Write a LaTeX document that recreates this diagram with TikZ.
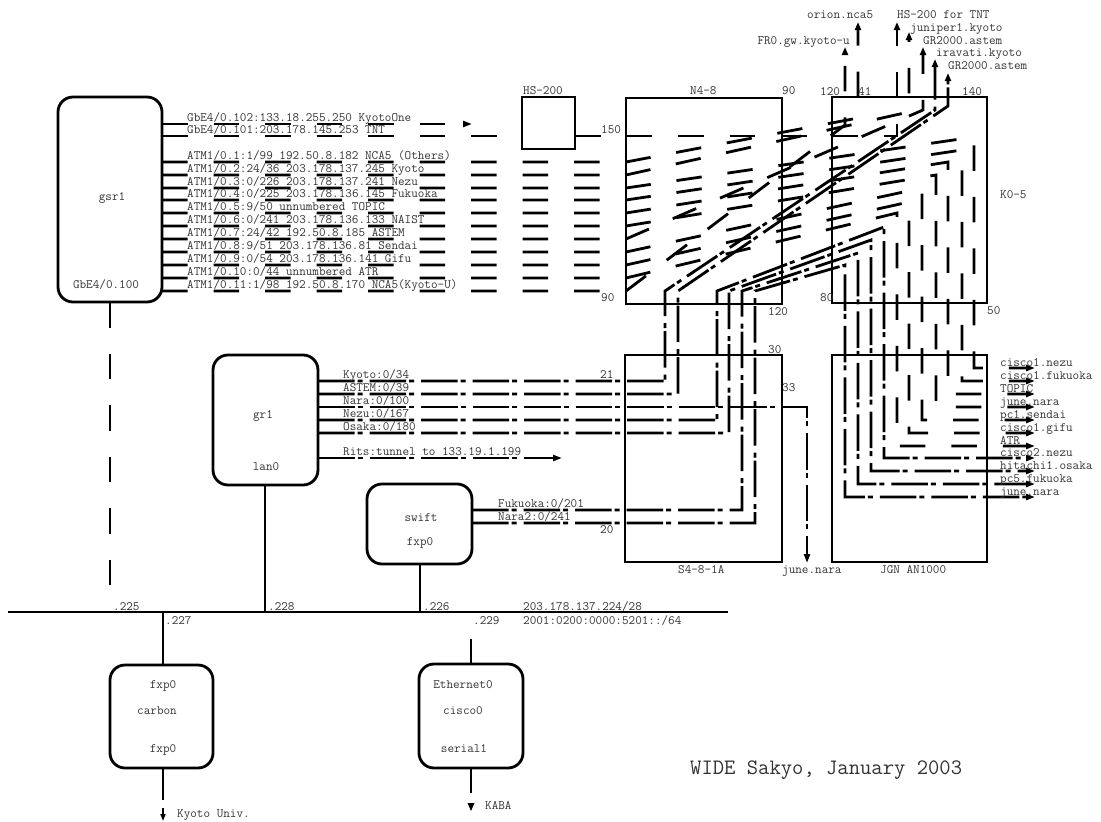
\documentclass[tikz,border=0pt]{standalone}
\usepackage{fontspec}
\usetikzlibrary{arrows.meta}
\begin{document}
\begin{tikzpicture}[x=1pt,y=-1pt,
  wire/.style={line width=2.8pt},
  ld/.style={wire, dash pattern=on 25.5pt off 26pt},
  dd/.style={wire, dash pattern=on 36.5pt off 3pt on 5pt off 7pt},
  box/.style={draw, line width=2.8pt, inner sep=0pt},
  rbox/.style={box, rounded corners=15pt},
  lab/.style={inner sep=0pt, anchor=base west, font=\ttfamily\fontsize{12.8}{15}\selectfont, text=black!80},
  labc/.style={lab, anchor=base},
  labe/.style={lab, anchor=base east},
  tip/.style={-{Triangle[width=6pt,length=9pt]}},
  tipu/.style={-{Triangle[width=6pt,length=8pt]}}
]
\useasboundingbox (0,0) rectangle (1101,822);

% ---------- boxes ----------
\node[rbox, minimum width=104pt, minimum height=205pt] (gsr1) at (110,199.5) {};
\node[rbox, minimum width=105pt, minimum height=130pt] (gr1) at (265.5,420) {};
\node[rbox, minimum width=105pt, minimum height=80pt] (swift) at (419.5,524) {};
\node[rbox, minimum width=103pt, minimum height=103pt] (carbon) at (161.5,716.5) {};
\node[rbox, minimum width=104pt, minimum height=104pt] (cisco0) at (471,716) {};
\node[box, minimum width=53pt, minimum height=52pt] (hs) at (548.5,123) {};
\node[box, minimum width=156pt, minimum height=206pt] (n48) at (704,201) {};
\node[box, minimum width=155pt, minimum height=206pt] (k05) at (909.5,200) {};
\node[box, minimum width=157pt, minimum height=207pt] (s48) at (703.5,458.5) {};
\node[box, minimum width=155pt, minimum height=207pt] (jgn) at (909.5,458.5) {};

% ---------- bus ----------
\draw[wire] (8,612) -- (728,612);
\draw[ld] (110,302) -- (110,612);
\draw[wire] (265,485) -- (265,612);
\draw[wire] (420,564) -- (420,612);
\draw[wire] (163,612) -- (163,665);
\draw[wire] (163,768) -- (163,800);
\draw[line width=1.6pt, -{Triangle[width=5pt,length=7pt]}] (163,808) -- (163,821);
\draw[wire] (471,639) -- (471,664);
\draw[wire] (471,768) -- (471,793);
\fill (467.5,803) -- (474.5,803) -- (471,811) -- cycle;

% ---------- gsr1 wires ----------
\draw[ld, tip] (162,124) -- (472,124);
\draw[ld] (162,136) -- (522,136);
\draw[ld, tipu] (575,136) -- (897,136) -- (897,22);
\draw[ld, tipu] (162,162) -- (626,162) -- (858,118) -- (858,22);
\draw[ld, tipu] (162,175) -- (626,175) -- (909,112) -- (909,32);
\draw[ld, tip] (162,188) -- (626,188) -- (974,137) -- (974,368) -- (1035,368);
\draw[ld, tip] (162,200) -- (626,200) -- (962,150) -- (962,381) -- (1035,381);
\draw[ld, tip] (162,213) -- (626,213) -- (948,162) -- (948,394) -- (1035,394);
\draw[ld, tip] (162,226) -- (626,226) -- (936,175) -- (936,407) -- (1035,407);
\draw[ld, tipu] (162,239) -- (626,239) -- (923,110) -- (923,47);
\draw[ld, tip] (162,252) -- (626,252) -- (922,188) -- (922,420) -- (1035,420);
\draw[ld, tip] (162,265) -- (626,265) -- (909,202) -- (909,433) -- (1035,433);
\draw[ld, tip] (162,278) -- (626,278) -- (897,213) -- (897,446) -- (1035,446);
\draw[ld, tipu] (162,291) -- (626,291) -- (845,125) -- (845,47);

% ---------- gr1 / swift wires ----------
\draw[dd, tipu] (318,381) -- (665,381) -- (665,291) -- (935,110) -- (935,59);
\draw[dd, tipu] (318,394) -- (678,394) -- (678,291) -- (948,106) -- (948,73);
\draw[dd, tip] (318,407) -- (807,407) -- (807,563);
\draw[dd, tip] (318,420) -- (717,420) -- (717,291) -- (884,227) -- (884,458) -- (1035,458);
\draw[dd, tip] (318,433) -- (729,433) -- (729,291) -- (871,240) -- (871,471) -- (1035,471);
\draw[dd, tip] (318,458) -- (562,458);
\draw[dd, tip] (472,510) -- (742,510) -- (742,291) -- (858,253) -- (858,484) -- (1035,484);
\draw[dd, tip] (472,523) -- (755,523) -- (755,291) -- (845,265) -- (845,497) -- (1035,497);

% ---------- box labels ----------
\node[labc] (t-gsr1) at (112,200.5) {gsr1};
\node[labc] (t-gsr1p) at (106,288.5) {GbE4/0.100};
\node[labc] (t-gr1) at (263,418.5) {gr1};
\node[labc] (t-gr1p) at (266,470.5) {lan0};
\node[labc] (t-swift) at (421,521.5) {swift};
\node[labc] (t-swiftp) at (420,545.5) {fxp0};
\node[labc] (t-c1) at (163,688.5) {fxp0};
\node[labc] (t-c2) at (157,714.5) {carbon};
\node[labc] (t-c3) at (163,752.5) {fxp0};
\node[labc] (t-e1) at (463,688.5) {Ethernet0};
\node[labc] (t-e2) at (463,714.5) {cisco0};
\node[labc] (t-e3) at (464,752.5) {serial1};
\node[lab] (t-hs) at (523,94) {HS-200};
\node[lab] (t-n48) at (690,94.5) {N4-8};
\node[lab] (t-n90a) at (782,94.5) {90};
\node[lab] (t-n150) at (601,133.5) {150};
\node[lab] (t-n90b) at (601,301.5) {90};
\node[lab] (t-n120) at (768,315.5) {120};
\node[lab] (t-k120) at (820,95.5) {120};
\node[lab] (t-k41) at (858,95.5) {41};
\node[lab] (t-k140) at (962,95.5) {140};
\node[lab] (t-k05) at (1000,198.5) {K0-5};
\node[lab] (t-k80) at (820,301.5) {80};
\node[lab] (t-k50) at (987,314.5) {50};
\node[lab] (t-s30) at (768,353.5) {30};
\node[lab] (t-s21) at (600,378.5) {21};
\node[lab] (t-s33) at (782,391.5) {33};
\node[lab] (t-s20) at (600,533.5) {20};
\node[lab] (t-s48) at (678,573.5) {S4-8-1A};
\node[lab] (t-jn) at (782,573.5) {june.nara};
\node[lab] (t-jgn) at (880,573.5) {JGN AN1000};

% ---------- top labels ----------
\node[lab] (o1) at (807,18.5) {orion.nca5};
\node[lab] (o2) at (897,18.5) {HS-200 for TNT};
\node[lab] (o3) at (910,31.5) {juniper1.kyoto};
\node[lab] (o4) at (923,44.5) {GR2000.astem};
\node[lab] (o5) at (936,56.5) {iravati.kyoto};
\node[lab] (o6) at (948,69.5) {GR2000.astem};
\node[labe] (o7) at (850,44.5) {FR0.gw.kyoto-u};

% ---------- gsr1 row labels ----------
\node[lab] (g1) at (187,121.5) {GbE4/0.102:133.18.255.250 KyotoOne};
\node[lab] (g2) at (187,133.5) {GbE4/0.101:203.178.145.253 TNT};
\node[lab] (g3) at (187,159.5) {ATM1/0.1:1/99 192.50.8.182 NCA5 (Others)};
\node[lab] (g4) at (187,172.5) {ATM1/0.2:24/36 203.178.137.245 Kyoto};
\node[lab] (g5) at (187,185.5) {ATM1/0.3:0/226 203.178.137.241 Nezu};
\node[lab] (g6) at (187,197.5) {ATM1/0.4:0/225 203.178.136.145 Fukuoka};
\node[lab] (g7) at (187,210.5) {ATM1/0.5:9/50 unnumbered TOPIC};
\node[lab] (g8) at (187,223.5) {ATM1/0.6:0/241 203.178.136.133 NAIST};
\node[lab] (g9) at (187,236.5) {ATM1/0.7:24/42 192.50.8.185 ASTEM};
\node[lab] (g10) at (187,249.5) {ATM1/0.8:9/51 203.178.136.81 Sendai};
\node[lab] (g11) at (187,262.5) {ATM1/0.9:0/54 203.178.136.141 Gifu};
\node[lab] (g12) at (187,275.5) {ATM1/0.10:0/44 unnumbered ATR};
\node[lab] (g13) at (187,288.5) {ATM1/0.11:1/98 192.50.8.170 NCA5(Kyoto-U)};

% ---------- gr1 / swift row labels ----------
\node[lab] (r1) at (343,378.5) {Kyoto:0/34};
\node[lab] (r2) at (343,391.5) {ASTEM:0/39};
\node[lab] (r3) at (343,404.5) {Nara:0/100};
\node[lab] (r4) at (343,417.5) {Nezu:0/167};
\node[lab] (r5) at (343,430.5) {Osaka:0/180};
\node[lab] (r6) at (343,455.5) {Rits:tunnel to 133.19.1.199};
\node[lab] (w1) at (498,507.5) {Fukuoka:0/201};
\node[lab] (w2) at (498,520.5) {Nara2:0/241};

% ---------- JGN outputs ----------
\node[lab] (j1) at (1000,366) {cisco1.nezu};
\node[lab] (j2) at (1000,379) {cisco1.fukuoka};
\node[lab] (j3) at (1000,392) {TOPIC};
\node[lab] (j4) at (1000,405) {june.nara};
\node[lab] (j5) at (1000,418) {pc1.sendai};
\node[lab] (j6) at (1000,431) {cisco1.gifu};
\node[lab] (j7) at (1000,444) {ATR};
\node[lab] (j8) at (1000,456) {cisco2.nezu};
\node[lab] (j9) at (1000,469) {hitachi1.osaka};
\node[lab] (j10) at (1000,482) {pc5.fukuoka};
\node[lab] (j11) at (1000,495) {june.nara};

% ---------- bus labels ----------
\node[lab] (b1) at (113,610.5) {.225};
\node[lab] (b2) at (268,610.5) {.228};
\node[lab] (b3) at (423,610.5) {.226};
\node[lab] (b4) at (523,610.5) {203.178.137.224/28};
\node[lab] (b5) at (165,624.5) {.227};
\node[lab] (b6) at (473,624.5) {.229};
\node[lab] (b7) at (523,624.5) {2001:0200:0000:5201::/64};
\node[lab] (ku) at (177,817.5) {Kyoto Univ.};
\node[lab] (kaba) at (485,809) {KABA};
\node[lab, font=\ttfamily\fontsize{22}{26}\selectfont] (title) at (690,774) {WIDE Sakyo, January 2003};
\end{tikzpicture}
\end{document}
